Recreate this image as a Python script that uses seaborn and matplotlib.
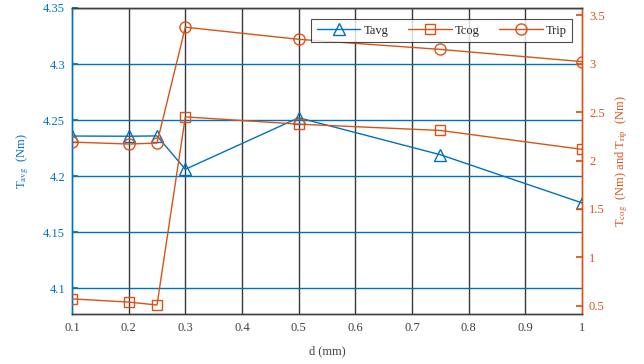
import matplotlib
matplotlib.use("Agg")
import matplotlib.pyplot as plt
import seaborn as sns
import pandas as pd
from matplotlib.lines import Line2D

d_mm = [0.1, 0.2, 0.25, 0.3, 0.5, 0.75, 1.0]
t_avg = [4.2357, 4.2355, 4.2358, 4.206, 4.252, 4.219, 4.176]
t_cog = [0.573, 0.54, 0.51, 2.45, 2.375, 2.31, 2.115]
t_rip = [2.19, 2.17, 2.18, 3.375, 3.25, 3.146, 3.02]
x_ticks = [0.1, 0.2, 0.3, 0.4, 0.5, 0.6, 0.7, 0.8, 0.9, 1.0]
left_ticks = [4.1, 4.15, 4.2, 4.25, 4.3, 4.35]
right_ticks = [0.5, 1, 1.5, 2, 2.5, 3, 3.5]

sns.set_theme(style="white")
plt.rcParams['font.family'] = ['Liberation Serif', 'DejaVu Serif']
plt.rcParams['mathtext.fontset'] = 'stix'

BLUE = '#0072BD'
ORANGE = '#D95319'
GRAY = '#404040'

df = pd.DataFrame({'d': d_mm, 'Tavg': t_avg, 'Tcog': t_cog, 'Trip': t_rip})

fig = plt.figure(figsize=(6.44, 3.64), dpi=100)
ax = fig.add_axes([72/644, 1 - 314/364, (582-72)/644, (314-8)/364])
ax2 = ax.twinx()

ax.set_xlim(0.1, 1.0)
ax.set_ylim(4.0768, 4.35)
ax2.set_ylim(0.417, 3.573)

# grids
for xv in x_ticks[1:-1]:
    ax.axvline(xv, color='#383838', lw=1.0, zorder=0)
for yv in left_ticks:
    ax.axhline(yv, color=BLUE, lw=1.0, zorder=0)

sns.lineplot(data=df, x='d', y='Tavg', ax=ax, color=BLUE, lw=1.0,
             marker='^', markersize=8, markerfacecolor='none',
             markeredgecolor=BLUE, markeredgewidth=1.0, zorder=3)
sns.lineplot(data=df, x='d', y='Tcog', ax=ax2, color=ORANGE, lw=1.0,
             marker='s', markersize=7, markerfacecolor='none',
             markeredgecolor=ORANGE, markeredgewidth=1.0, zorder=3)
sns.lineplot(data=df, x='d', y='Trip', ax=ax2, color=ORANGE, lw=1.0,
             marker='o', markersize=8, markerfacecolor='none',
             markeredgecolor=ORANGE, markeredgewidth=1.0, zorder=3)

ax.set_xticks(x_ticks)
ax.set_xticklabels(['0.1', '0.2', '0.3', '0.4', '0.5', '0.6', '0.7', '0.8', '0.9', '1'])
ax.set_yticks(left_ticks)
ax.set_yticklabels(['4.1', '4.15', '4.2', '4.25', '4.3', '4.35'])
ax2.set_yticks(right_ticks)
ax2.set_yticklabels(['0.5', '1', '1.5', '2', '2.5', '3', '3.5'])

ax.tick_params(axis='x', colors=GRAY, labelsize=9, direction='in', length=4, pad=6)
ax.tick_params(axis='y', colors=BLUE, labelcolor=BLUE, labelsize=9, direction='in', length=4, pad=5)
ax2.tick_params(axis='y', colors=ORANGE, labelcolor=ORANGE, labelsize=9, direction='in', length=4, pad=5)

ax.set_xlabel('d (mm)', color=GRAY, fontsize=9, labelpad=8)
ax.set_ylabel(r'T$_{\rm avg}$  (Nm)', color=BLUE, fontsize=9, labelpad=9)
ax2.set_ylabel(r'T$_{\rm cog}$  (Nm) and T$_{\rm rip}$  (Nm)', color=ORANGE, fontsize=9,
               rotation=90, labelpad=6)

for a in (ax, ax2):
    a.spines['top'].set_color(GRAY)
    a.spines['bottom'].set_color(GRAY)
    a.spines['left'].set_color(BLUE)
    a.spines['right'].set_color(ORANGE)
    for s in a.spines.values():
        s.set_linewidth(1.0)
        s.set_visible(True)

handles = [
    Line2D([], [], color=BLUE, lw=1.0, marker='^', markersize=8, markerfacecolor='none', markeredgecolor=BLUE),
    Line2D([], [], color=ORANGE, lw=1.0, marker='s', markersize=7, markerfacecolor='none', markeredgecolor=ORANGE),
    Line2D([], [], color=ORANGE, lw=1.0, marker='o', markersize=8, markerfacecolor='none', markeredgecolor=ORANGE),
]
leg = ax2.legend(handles, ['Tavg', 'Tcog', 'Trip'], ncol=3, loc='upper left',
                 bbox_to_anchor=((311-72)/510, 1 - (19-8)/306), frameon=True,
                 fancybox=False, edgecolor='#202020', fontsize=9, handlelength=3.5,
                 columnspacing=1.55, handletextpad=0.25, borderpad=0.45, borderaxespad=0)
leg.get_frame().set_linewidth(0.8)
if ax.get_legend():
    ax.get_legend().remove()

fig.savefig('out.png', dpi=100)
